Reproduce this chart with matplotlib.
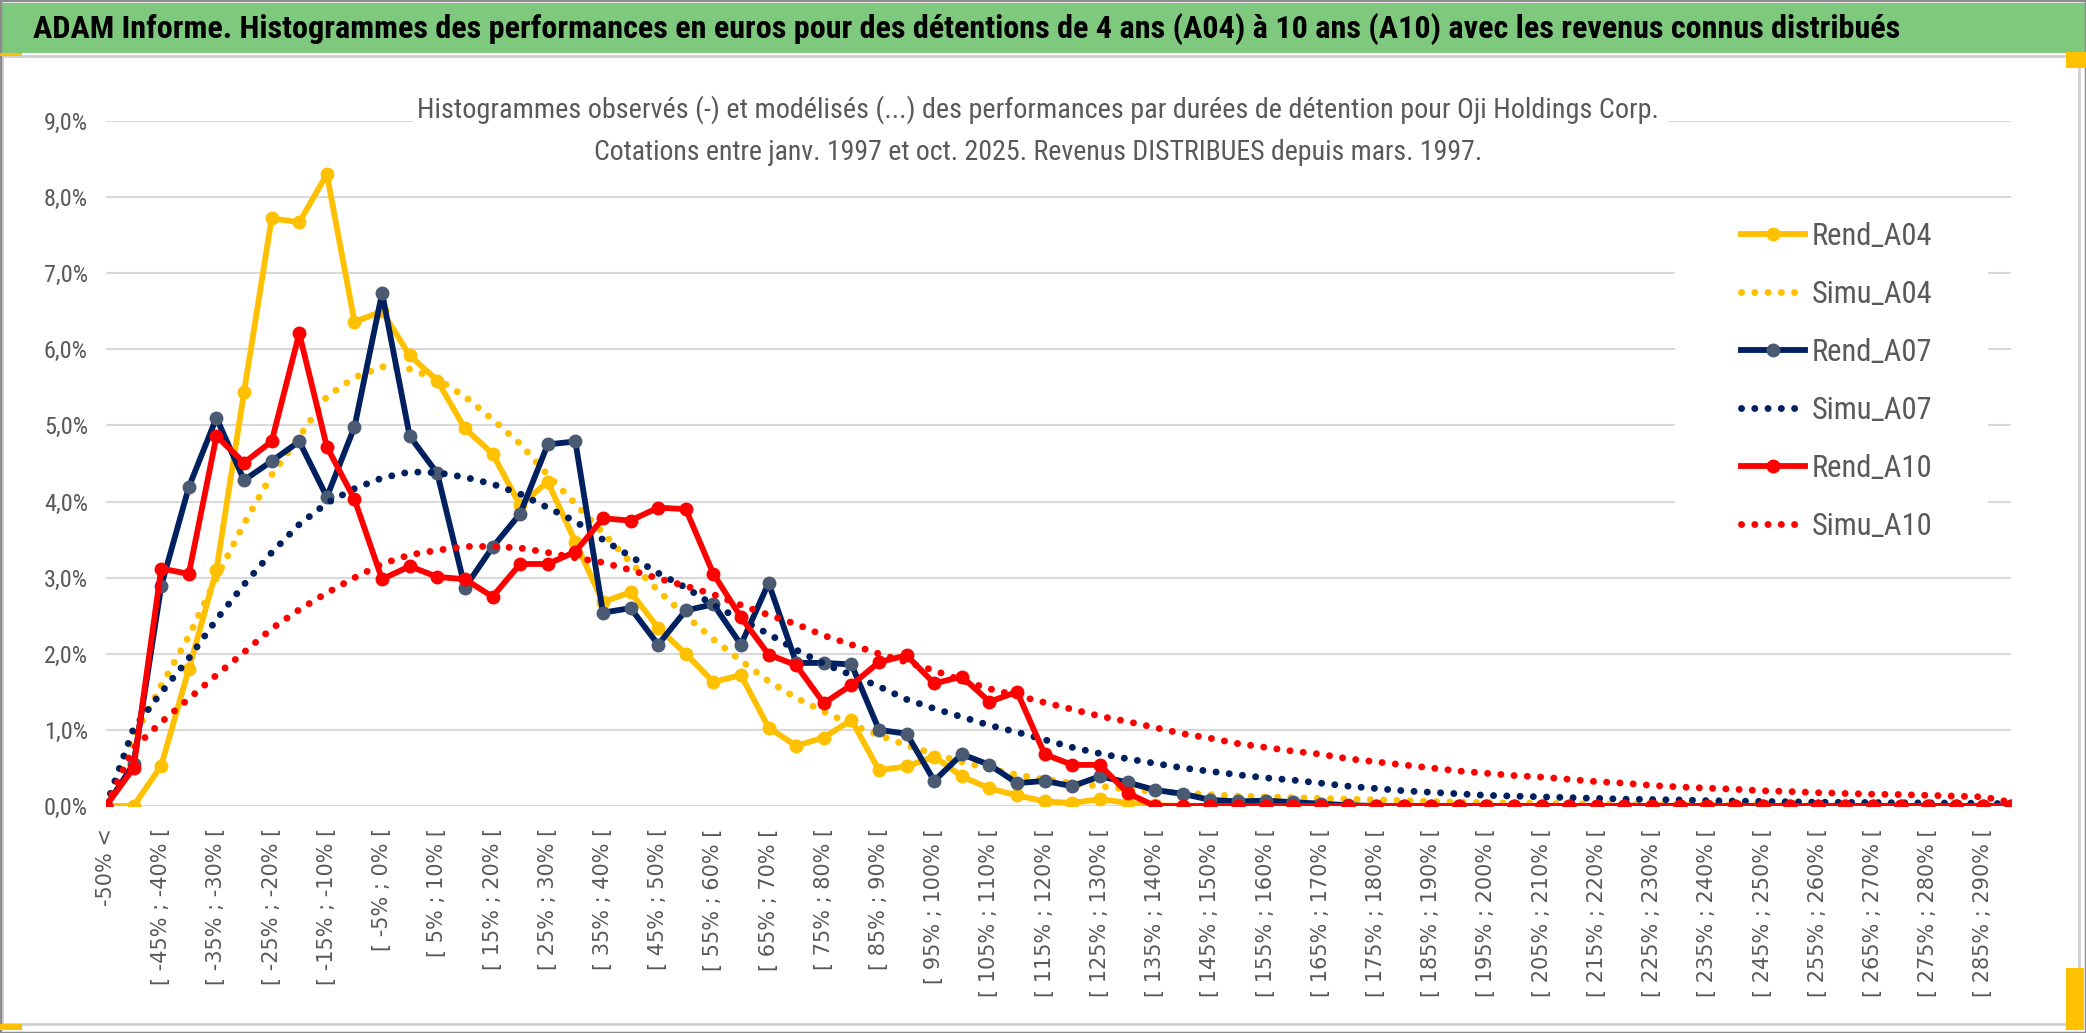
import os
import matplotlib
matplotlib.use("Agg")
import matplotlib.pyplot as plt
from matplotlib import font_manager as fm
from matplotlib.font_manager import FontProperties
from matplotlib.patches import Rectangle
from matplotlib.ticker import FuncFormatter

W, H = 2086, 1033
DPI = 100

# categories: "-50% <" then 5-point classes up to 295%
lower_bounds = list(range(-50, 295, 5))
categories = ["-50% <"] + [f"[ {b}% ; {b + 5}% [" for b in lower_bounds]

# values in %
rend_a04 = [0.00, 0.00, 0.53, 1.80, 3.10, 5.44, 7.72, 7.67, 8.30, 6.36,
            6.50, 5.92, 5.59, 4.96, 4.63, 3.95, 4.26, 3.47, 2.68, 2.81,
            2.34, 2.00, 1.63, 1.72, 1.03, 0.79, 0.90, 1.13, 0.47, 0.52,
            0.65, 0.39, 0.23, 0.14, 0.06, 0.04, 0.09, 0.04, 0.01, 0.00,
            0.00, 0.00, 0.00, 0.00, 0.00, 0.00, 0.00, 0.00, 0.00, 0.00,
            0.00, 0.00, 0.00, 0.00, 0.00, 0.00, 0.00, 0.00, 0.00, 0.00,
            0.00, 0.00, 0.00, 0.00, 0.00, 0.00, 0.00, 0.00, 0.00, 0.00]
simu_a04 = [0.00, 0.90, 1.58, 2.23, 3.00, 3.71, 4.35, 4.85, 5.38, 5.63,
            5.77, 5.74, 5.61, 5.38, 5.08, 4.76, 4.35, 3.97, 3.59, 3.20,
            2.83, 2.50, 2.19, 1.91, 1.64, 1.42, 1.24, 1.07, 0.93, 0.80,
            0.68, 0.58, 0.49, 0.41, 0.35, 0.30, 0.26, 0.22, 0.19, 0.17,
            0.15, 0.13, 0.12, 0.11, 0.10, 0.09, 0.08, 0.07, 0.06, 0.05,
            0.045, 0.04, 0.035, 0.03, 0.025, 0.02, 0.02, 0.015, 0.01, 0.01,
            0.01, 0.005, 0.005, 0.00, 0.00, 0.00, 0.00, 0.00, 0.00, 0.00]
rend_a07 = [0.00, 0.55, 2.89, 4.19, 5.10, 4.28, 4.53, 4.79, 4.06, 4.98,
            6.74, 4.86, 4.37, 2.87, 3.40, 3.84, 4.75, 4.79, 2.54, 2.60,
            2.12, 2.57, 2.65, 2.12, 2.93, 1.88, 1.88, 1.86, 1.00, 0.95,
            0.33, 0.68, 0.54, 0.30, 0.33, 0.26, 0.39, 0.31, 0.21, 0.16,
            0.08, 0.06, 0.07, 0.05, 0.03, 0.01, 0.00, 0.00, 0.00, 0.00,
            0.00, 0.00, 0.00, 0.00, 0.00, 0.00, 0.00, 0.00, 0.00, 0.00,
            0.00, 0.00, 0.00, 0.00, 0.00, 0.00, 0.00, 0.00, 0.00, 0.00]
simu_a07 = [0.00, 1.02, 1.49, 1.94, 2.45, 2.91, 3.33, 3.70, 3.98, 4.17,
            4.31, 4.39, 4.38, 4.32, 4.23, 4.10, 3.92, 3.74, 3.50, 3.28,
            3.06, 2.87, 2.64, 2.45, 2.26, 2.05, 1.87, 1.72, 1.57, 1.40,
            1.28, 1.17, 1.06, 0.97, 0.87, 0.77, 0.69, 0.62, 0.56, 0.50,
            0.455, 0.41, 0.37, 0.34, 0.30, 0.26, 0.23, 0.20, 0.18, 0.16,
            0.14, 0.13, 0.12, 0.11, 0.10, 0.09, 0.085, 0.08, 0.07, 0.065,
            0.06, 0.055, 0.05, 0.048, 0.045, 0.042, 0.04, 0.038, 0.035, 0.03]
rend_a10 = [0.00, 0.50, 3.12, 3.05, 4.86, 4.51, 4.79, 6.21, 4.72, 4.03,
            2.98, 3.15, 3.01, 2.98, 2.75, 3.18, 3.18, 3.34, 3.78, 3.75,
            3.92, 3.90, 3.05, 2.48, 1.99, 1.85, 1.35, 1.59, 1.89, 1.98,
            1.61, 1.70, 1.37, 1.50, 0.68, 0.54, 0.54, 0.17, 0.00, 0.00,
            0.00, 0.00, 0.00, 0.00, 0.00, 0.00, 0.00, 0.00, 0.00, 0.00,
            0.00, 0.00, 0.00, 0.00, 0.00, 0.00, 0.00, 0.00, 0.00, 0.00,
            0.00, 0.00, 0.00, 0.00, 0.00, 0.00, 0.00, 0.00, 0.00, 0.00]
simu_a10 = [0.00, 0.76, 1.10, 1.41, 1.72, 2.02, 2.33, 2.58, 2.80, 3.00,
            3.18, 3.30, 3.36, 3.41, 3.41, 3.39, 3.33, 3.26, 3.20, 3.10,
            2.99, 2.89, 2.78, 2.64, 2.51, 2.39, 2.24, 2.12, 2.00, 1.89,
            1.78, 1.65, 1.54, 1.45, 1.36, 1.27, 1.18, 1.11, 1.03, 0.95,
            0.89, 0.82, 0.77, 0.72, 0.68, 0.62, 0.58, 0.54, 0.50, 0.46,
            0.43, 0.40, 0.38, 0.35, 0.32, 0.30, 0.27, 0.25, 0.235, 0.22,
            0.20, 0.19, 0.175, 0.165, 0.155, 0.15, 0.14, 0.13, 0.12, 0.05]

banner_title = ("ADAM Informe. Histogrammes des performances en euros pour des détentions "
                "de 4 ans (A04) à 10 ans (A10) avec les revenus connus distribués")
chart_title_1 = ("Histogrammes observés (-) et modélisés (...) des performances par durées "
                 "de détention pour Oji Holdings Corp.")
chart_title_2 = "Cotations entre janv. 1997 et oct. 2025. Revenus DISTRIBUES depuis mars. 1997."

YELLOW = "#FFC000"
NAVY = "#002060"
RED = "#FF0000"
SLATE = "#4A5A72"
GRAY_TXT = "#595959"
GRID = "#D9D9D9"


def find_font(patterns):
    """Return a FontProperties for the first installed file whose name matches."""
    files = [f.fname for f in fm.fontManager.ttflist]
    for pat in patterns:
        for path in files:
            if pat in os.path.basename(path).lower():
                return FontProperties(fname=path)
    return None


# a narrow face is the closest thing to the squeezed Calibri of the source
narrow = find_font(["liberationsansnarrow-regular", "robotocondensed-regular",
                    "notosans-condensed.", "dejavusanscondensed.",
                    "opensans_condensed-regular", "opensanscondensed-regular"])
narrow_bold = find_font(["liberationsansnarrow-bold.", "robotocondensed-bold.",
                         "notosans-condensedbold.", "dejavusanscondensed-bold.",
                         "opensans_condensed-bold.", "opensanscondensed-bold."])
if narrow is None:
    narrow = FontProperties(family="Liberation Sans")
if narrow_bold is None:
    narrow_bold = narrow.copy()
    narrow_bold.set_weight("bold")


def fp(base, size):
    p = base.copy()
    p.set_size(size)
    return p


def fx(px):
    return px / W


def fy(py):
    return 1 - py / H


def fit_width(fig, t, target_px):
    r = fig.canvas.get_renderer()
    w = t.get_window_extent(r).width
    t.set_fontsize(t.get_fontsize() * target_px / w)


fig = plt.figure(figsize=(W / DPI, H / DPI), dpi=DPI)
fig.patch.set_facecolor("white")

# frame / banner decoration
fig.patches.append(Rectangle((0, fy(53)), 1, (53 - 3) / H, transform=fig.transFigure,
                             facecolor="#7FC97F", edgecolor="none", zorder=0))
fig.patches.append(Rectangle((fx(2), fy(1024)), (2079 - 2) / W, (1024 - 56) / H,
                             transform=fig.transFigure, facecolor="none",
                             edgecolor="#D0D0D0", linewidth=2, zorder=0))
fig.patches.append(Rectangle((0, 0), 1, 1, transform=fig.transFigure, facecolor="none",
                             edgecolor="#8C8C8C", linewidth=2.5, zorder=0))
for (x0, y0, x1, y1) in [(0, 53, 22, 56), (2066, 52, 2086, 68), (0, 1024, 22, 1030),
                         (2066, 968, 2084, 1030)]:
    fig.patches.append(Rectangle((fx(x0), fy(y1)), (x1 - x0) / W, (y1 - y0) / H,
                                 transform=fig.transFigure, facecolor=YELLOW,
                                 edgecolor="none", zorder=1))

ax = fig.add_axes([fx(106), fy(806), (2011 - 106) / W, (806 - 121) / H])
x = list(range(len(categories)))

dot_style = dict(linestyle=(0, (0.01, 1.9)), linewidth=5, dash_capstyle="round")
solid_style = dict(linewidth=4.2, marker="o", markersize=9)

ax.plot(x, rend_a04, color=YELLOW, markerfacecolor=YELLOW, markeredgecolor=YELLOW,
        label="Rend_A04", zorder=3, **solid_style)
ax.plot(x, simu_a04, color=YELLOW, label="Simu_A04", zorder=3, **dot_style)
ax.plot(x, rend_a07, color=NAVY, markerfacecolor=SLATE, markeredgecolor=SLATE,
        label="Rend_A07", zorder=3, **solid_style)
ax.plot(x, simu_a07, color=NAVY, label="Simu_A07", zorder=3, **dot_style)
ax.plot(x, rend_a10, color=RED, markerfacecolor=RED, markeredgecolor=RED,
        label="Rend_A10", zorder=3, **solid_style)
ax.plot(x, simu_a10, color=RED, label="Simu_A10", zorder=3, **dot_style)

ax.set_xlim(0, len(categories) - 1)
ax.set_ylim(0, 9)
ax.set_yticks(range(0, 10))
ax.yaxis.set_major_formatter(FuncFormatter(lambda v, p: f"{v:.1f}%".replace(".", ",")))
ax.set_xticks(x[::2])
ax.set_xticklabels(categories[::2], rotation=90, fontsize=15, color=GRAY_TXT,
                   family="DejaVu Sans")
ax.set_xticks(x[::4], minor=True)
ax.tick_params(axis="x", which="both", length=0, pad=16)
ax.tick_params(axis="y", length=0, pad=13, labelcolor=GRAY_TXT)
for lab in ax.get_yticklabels():
    lab.set_fontproperties(fp(narrow, 17.5))
ax.set_axisbelow(True)
ax.grid(axis="y", which="major", color=GRID, linewidth=1.5)
ax.grid(axis="x", which="minor", color=GRID, linewidth=1.5)
ax.grid(axis="x", which="major", visible=False)
for s in ax.spines.values():
    s.set_visible(False)

# white areas behind chart title and legend (hide gridlines like Excel)
ax.add_patch(Rectangle((fx(413), fy(165)), (1668 - 413) / W, (165 - 95) / H,
                       transform=fig.transFigure, facecolor="white", edgecolor="none",
                       zorder=1, clip_on=False))
ax.add_patch(Rectangle((fx(1675), fy(553)), (1988 - 1675) / W, (553 - 207) / H,
                       transform=fig.transFigure, facecolor="white", edgecolor="none",
                       zorder=1, clip_on=False))

leg = ax.legend(loc="upper left", bbox_to_anchor=(fx(1741), fy(222)),
                bbox_transform=fig.transFigure, frameon=False, borderaxespad=0,
                borderpad=0, handlelength=2.1, handletextpad=0.2, labelspacing=0.95,
                prop=fp(narrow, 22))
for t in leg.get_texts():
    t.set_color(GRAY_TXT)

t_banner = fig.text(fx(33), fy(29), banner_title, ha="left", va="center", color="black",
                    fontproperties=fp(narrow_bold, 22))
t_sub1 = fig.text(fx(1038), fy(110), chart_title_1, ha="center", va="center",
                  color=GRAY_TXT, fontproperties=fp(narrow, 19))
t_sub2 = fig.text(fx(1038), fy(152), chart_title_2, ha="center", va="center",
                  color=GRAY_TXT, fontproperties=fp(narrow, 19))
fit_width(fig, t_banner, 1871)
fit_width(fig, t_sub1, 1240)
fit_width(fig, t_sub2, 893)

fig.savefig("out.png", dpi=DPI)
